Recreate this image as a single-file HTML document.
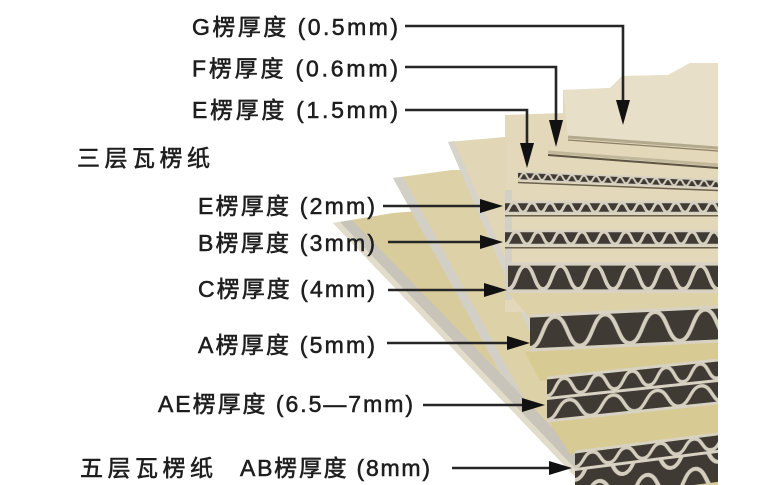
<!DOCTYPE html>
<html><head><meta charset="utf-8"><style>
html,body{margin:0;padding:0;background:#fff;}
svg{display:block}
text{font-family:"Liberation Sans","Noto Sans CJK SC",sans-serif;font-size:23px;fill:#1e1e1e;stroke:#1e1e1e;stroke-width:0.55px}
</style></head><body>
<svg width="775" height="485" viewBox="0 0 775 485" xmlns="http://www.w3.org/2000/svg">
<defs>
<pattern id="pE1" width="12" height="8" patternUnits="userSpaceOnUse"><rect width="12" height="8" fill="#3f3a33"/><path d="M0,7 C3,7 3,1 6,1 C9,1 9,7 12,7" stroke="#d4cebf" stroke-width="2" fill="none"/></pattern>
<pattern id="pE2" width="18" height="11" patternUnits="userSpaceOnUse"><rect width="18" height="11" fill="#3f3a33"/><path d="M0,10 C4.5,10 4.5,1 9,1 C13.5,1 13.5,10 18,10" stroke="#d4cebf" stroke-width="2.8" fill="none"/></pattern>
<pattern id="pB" width="22" height="14" patternUnits="userSpaceOnUse"><rect width="22" height="14" fill="#3f3a33"/><path d="M0,13 C5.5,13 5.5,1 11,1 C16.5,1 16.5,13 22,13" stroke="#d4cebf" stroke-width="3" fill="none"/></pattern>
<pattern id="pC" width="35" height="27" patternUnits="userSpaceOnUse"><rect width="35" height="27" fill="#3f3a33"/><path d="M0,25 C8.75,25 8.75,2 17.5,2 C26.25,2 26.25,25 35,25" stroke="#d4cebf" stroke-width="3.8" fill="none"/></pattern>
<pattern id="pA" width="50" height="34" patternUnits="userSpaceOnUse"><rect width="50" height="34" fill="#3f3a33"/><path d="M0,32 C12.5,32 12.5,2 25,2 C37.5,2 37.5,32 50,32" stroke="#d4cebf" stroke-width="4" fill="none"/></pattern>
<pattern id="pAEu" width="34" height="20" patternUnits="userSpaceOnUse"><rect width="34" height="20" fill="#3f3a33"/><path d="M0,18 C8.5,18 8.5,2 17,2 C25.5,2 25.5,18 34,18" stroke="#d4cebf" stroke-width="3.4" fill="none"/></pattern>
<pattern id="pAEl" width="44" height="22" patternUnits="userSpaceOnUse"><rect width="44" height="22" fill="#3f3a33"/><path d="M0,20 C11,20 11,2 22,2 C33,2 33,20 44,20" stroke="#d4cebf" stroke-width="3.5" fill="none"/></pattern>
<pattern id="pABu" width="34" height="17" patternUnits="userSpaceOnUse"><rect width="34" height="17" fill="#3f3a33"/><path d="M0,15 C8.5,15 8.5,2 17,2 C25.5,2 25.5,15 34,15" stroke="#d4cebf" stroke-width="3.4" fill="none"/></pattern>
<pattern id="pABl" width="48" height="30" patternUnits="userSpaceOnUse"><rect width="48" height="30" fill="#3f3a33"/><path d="M0,28 C12,28 12,2 24,2 C36,2 36,28 48,28" stroke="#d4cebf" stroke-width="4" fill="none"/></pattern>
</defs>
<rect width="775" height="485" fill="#fff"/>

<!-- sheet C (bottom fan) -->
<polygon points="333,223 393,213 560,200 718,200 718,485 583,485" fill="#d9cc9c"/>
<!-- sheet B -->
<polygon points="393,178 452,170 600,170 600,485 583,485 515,400" fill="#ddd1a7"/>
<polygon points="393,178 515,400 526,402 403,177" fill="#d2cfc7"/>
<!-- sheet A -->
<polygon points="448,142 505,137 560,300 560,400 548,380 533,340" fill="#e1d6b5"/>
<polygon points="448,142 533,340 540,340 454,141" fill="#d6d3cb"/>
<!-- sheet C edge strips -->
<polygon points="333,223 583,485 591,485 340,222" fill="#e2dccb"/>
<polygon points="340,222 591,485 608,485 352,220" fill="#c8c4b9"/>

<!-- upper block of thin boards -->
<polygon points="505,115 563,113 563,90 610,88 622,76 668,75 690,63 718,63 718,312 505,312" fill="#e3d8ba"/>
<polygon points="563,90 610,88 622,76 668,75 690,63 718,63 718,148 568,137" fill="#e8dfc8"/>
<rect x="505" y="190" width="7" height="110" fill="#d3cfc4"/>
<line x1="568" y1="137" x2="718" y2="148" stroke="#b3a98d" stroke-width="3"/>
<line x1="568" y1="140" x2="718" y2="151" stroke="#8a7f66" stroke-width="1.2"/>
<line x1="548" y1="152" x2="718" y2="165" stroke="#c1b79b" stroke-width="3"/>
<line x1="548" y1="155" x2="718" y2="168" stroke="#5e5444" stroke-width="2"/>

<!-- lower yellow liners -->
<polygon points="525,352 718,336 718,362 540,381" fill="#d7ca92"/>
<polygon points="548,420 718,402 718,434 570,454" fill="#d7ca92"/>
<polygon points="508,293 718,293 718,308 530,318" fill="#ddd1a7"/>

<!-- flute bands -->
<g transform="translate(518,172) skewY(2.3)">
<rect width="200" height="8" fill="url(#pE1)"/>
<line x1="0" y1="0" x2="200" y2="0" stroke="#d8d2c3" stroke-width="1.8"/>
<line x1="0" y1="8" x2="200" y2="8" stroke="#d8d2c3" stroke-width="1.8"/>
<line x1="0" y1="10.5" x2="200" y2="10.5" stroke="#6a604e" stroke-width="1.5"/>
</g>
<g transform="translate(505,202)">
<rect width="213" height="11" fill="url(#pE2)"/>
<line x1="0" y1="0" x2="213" y2="0" stroke="#d8d2c3" stroke-width="2.5"/>
<line x1="0" y1="11" x2="213" y2="11" stroke="#d8d2c3" stroke-width="2.5"/>
<line x1="0" y1="13.8" x2="213" y2="13.8" stroke="#6a604e" stroke-width="1.5"/>
</g>
<g transform="translate(505,231)">
<rect width="213" height="14" fill="url(#pB)"/>
<line x1="0" y1="0" x2="213" y2="0" stroke="#d8d2c3" stroke-width="2.5"/>
<line x1="0" y1="14" x2="213" y2="14" stroke="#d8d2c3" stroke-width="2.5"/>
<line x1="0" y1="16.8" x2="213" y2="16.8" stroke="#6a604e" stroke-width="1.5"/>
</g>
<g transform="translate(508,264)">
<rect width="210" height="27" fill="url(#pC)"/>
<line x1="0" y1="0" x2="210" y2="0" stroke="#d8d2c3" stroke-width="3.2"/>
<line x1="0" y1="27" x2="210" y2="27" stroke="#d8d2c3" stroke-width="3.2"/>
</g>
<g transform="translate(530,316) skewY(-2.74)">
<rect width="188" height="34" fill="url(#pA)"/>
<line x1="0" y1="0" x2="188" y2="0" stroke="#d8d2c3" stroke-width="3.2"/>
<line x1="0" y1="34" x2="188" y2="34" stroke="#d8d2c3" stroke-width="3.2"/>
</g>
<g transform="translate(547,378) skewY(-6)">
<rect width="171" height="20" fill="url(#pAEu)"/>
<rect y="21" width="171" height="22" fill="url(#pAEl)"/>
<line x1="0" y1="0" x2="171" y2="0" stroke="#d8d2c3" stroke-width="3"/>
<line x1="0" y1="20.5" x2="171" y2="20.5" stroke="#d8d2c3" stroke-width="3"/>
<line x1="0" y1="43" x2="171" y2="43" stroke="#d8d2c3" stroke-width="3"/>
</g>
<g transform="translate(575,452) skewY(-7.2)">
<rect width="143" height="17" fill="url(#pABu)"/>
<rect y="18" width="143" height="30" fill="url(#pABl)"/>
<line x1="0" y1="0" x2="143" y2="0" stroke="#d8d2c3" stroke-width="3"/>
<line x1="0" y1="17.5" x2="143" y2="17.5" stroke="#d8d2c3" stroke-width="3"/>
</g>

<!-- arrows -->
<g stroke="#262626" stroke-width="2.6" fill="none">
<path d="M405,26 H623 V102"/>
<path d="M405,67 H556 V122"/>
<path d="M405,110 H527 V145"/>
<path d="M383,206 H482"/>
<path d="M388,242 H482"/>
<path d="M388,290 H486"/>
<path d="M387,343 H509"/>
<path d="M423,405 H524"/>
<path d="M452,468 H551"/>
</g>
<g fill="#111">
<polygon points="616,100 630,100 623,125"/>
<polygon points="549,120 563,120 556,147"/>
<polygon points="520,143 534,143 527,168"/>
<polygon points="480,199 480,213 503,206"/>
<polygon points="480,235 480,249 503,242"/>
<polygon points="484,283 484,297 507,290"/>
<polygon points="507,336 507,350 530,343"/>
<polygon points="522,398 522,412 545,405"/>
<polygon points="549,461 549,475 572,468"/>
</g>

<!-- labels -->
<text x="192" y="35" textLength="206">G楞厚度 (0.5mm)</text>
<text x="192" y="76.5" textLength="206">F楞厚度 (0.6mm)</text>
<text x="192" y="118" textLength="206">E楞厚度 (1.5mm)</text>
<text x="77" y="166" textLength="133">三层瓦楞纸</text>
<text x="198" y="214" textLength="177">E楞厚度 (2mm)</text>
<text x="198" y="251" textLength="177">B楞厚度 (3mm)</text>
<text x="198" y="297" textLength="177">C楞厚度 (4mm)</text>
<text x="198" y="353" textLength="177">A楞厚度 (5mm)</text>
<text x="158" y="412" textLength="255">AE楞厚度 (6.5—7mm)</text>
<text x="80" y="476" textLength="133">五层瓦楞纸</text>
<text x="240" y="476" textLength="190">AB楞厚度 (8mm)</text>
</svg>
</body></html>
